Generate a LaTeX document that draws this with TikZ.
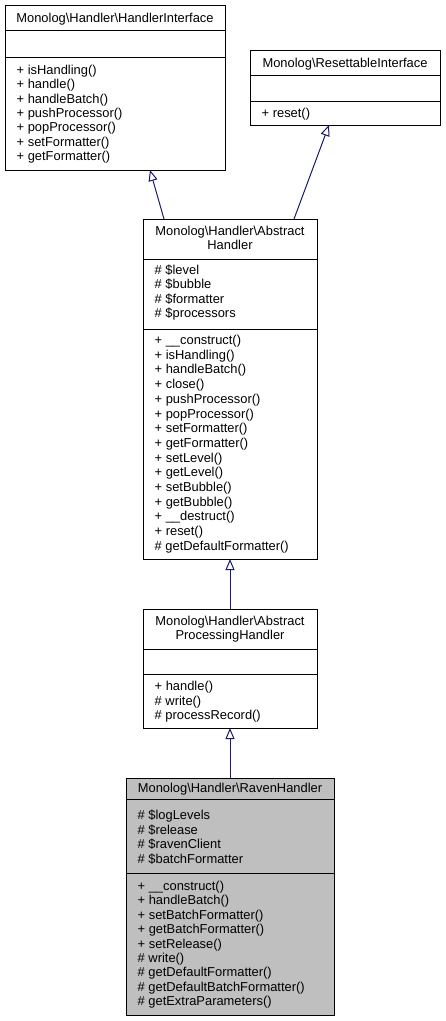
\documentclass[tikz,border=0pt]{standalone}
\usepackage{fontspec}
\setmainfont{Liberation Sans}
\usetikzlibrary{arrows.meta}
\definecolor{edgeblue}{HTML}{191970}
\definecolor{hlgray}{HTML}{BFBFBF}
\newcommand\umllines[5]{%
  \foreach \t [count=\i from 0] in {#5}
    \node[txt, name=#1-\i] at (#2, {#3+\i*#4}) {\t};}
\begin{document}
\begin{tikzpicture}[x=1pt,y=-1pt,
  box/.style={draw=black, line width=1pt, inner sep=0pt, outer sep=0pt, anchor=north west, fill=white},
  txt/.style={anchor=base west, inner sep=0pt, font=\fontsize{12.9}{14.4}\selectfont},
  ttl/.style={anchor=base, inner sep=0pt, font=\fontsize{12.9}{14.4}\selectfont},
  sep/.style={draw=black, line width=1pt},
  inh/.style={draw=edgeblue, line width=1pt, -{Triangle[open, length=11pt, width=9pt, fill=white]}}
]
\useasboundingbox (0,0) rectangle (445,1021);

% Box 1: HandlerInterface
\node[box, minimum width=220pt, minimum height=165pt] (b1) at (5,5) {};
\draw[sep] (5,30) -- (225,30);
\draw[sep] (5,57) -- (225,57);
\node[ttl] (b1t) at (115,22) {Monolog\textbackslash Handler\textbackslash HandlerInterface};
\umllines{b1m}{16.5}{74.5}{14.33}{+ isHandling(),+ handle(),+ handleBatch(),+ pushProcessor(),+ popProcessor(),+ setFormatter(),+ getFormatter()}

% Box 2: ResettableInterface
\node[box, minimum width=190pt, minimum height=75pt] (b2) at (250,50) {};
\draw[sep] (250,75) -- (440,75);
\draw[sep] (250,101) -- (440,101);
\node[ttl] (b2t) at (345,67) {Monolog\textbackslash ResettableInterface};
\umllines{b2m}{261.5}{117.5}{14.4}{+ reset()}

% Box 3: AbstractHandler
\node[box, minimum width=174pt, minimum height=340pt] (b3) at (143,219) {};
\draw[sep] (143,259) -- (317,259);
\draw[sep] (143,329) -- (317,329);
\node[ttl] (b3t1) at (230,235.5) {Monolog\textbackslash Handler\textbackslash Abstract};
\node[ttl] (b3t2) at (230,249.5) {Handler};
\umllines{b3a}{154.5}{274.5}{14.33}{\#\ \$level,\#\ \$bubble,\#\ \$formatter,\#\ \$processors}
\umllines{b3m}{154.5}{344.5}{14.7}{+ \_\_construct(),+ isHandling(),+ handleBatch(),+ close(),+ pushProcessor(),+ popProcessor(),+ setFormatter(),+ getFormatter(),+ setLevel(),+ getLevel(),+ setBubble(),+ getBubble(),+ \_\_destruct(),+ reset(),\#\ getDefaultFormatter()}

% Box 4: AbstractProcessingHandler
\node[box, minimum width=174pt, minimum height=119pt] (b4) at (143,609) {};
\draw[sep] (143,649) -- (317,649);
\draw[sep] (143,674) -- (317,674);
\node[ttl] (b4t1) at (230,625.5) {Monolog\textbackslash Handler\textbackslash Abstract};
\node[ttl] (b4t2) at (230,639.5) {ProcessingHandler};
\umllines{b4m}{154.5}{690.5}{14.5}{+ handle(),\#\ write(),\#\ processRecord()}

% Box 5: RavenHandler
\node[box, fill=hlgray, minimum width=208pt, minimum height=237pt] (b5) at (126,778) {};
\draw[sep] (126,799) -- (334,799);
\draw[sep] (126,873) -- (334,873);
\node[ttl] (b5t) at (230,792.5) {Monolog\textbackslash Handler\textbackslash RavenHandler};
\umllines{b5a}{137.5}{819.5}{14.67}{\#\ \$logLevels,\#\ \$release,\#\ \$ravenClient,\#\ \$batchFormatter}
\umllines{b5m}{137.5}{890.5}{14.4}{+ \_\_construct(),+ handleBatch(),+ setBatchFormatter(),+ getBatchFormatter(),+ setRelease(),\#\ write(),\#\ getDefaultFormatter(),\#\ getDefaultBatchFormatter(),\#\ getExtraParameters()}

% Inheritance connectors
\draw[inh] ([xshift=21pt]b3.north west) -- ([xshift=145pt]b1.south west);
\draw[inh] ([xshift=151pt]b3.north west) -- ([xshift=79pt]b2.south west);
\draw[inh] (b4.north) -- (b3.south);
\draw[inh] (b5.north) -- (b4.south);
\end{tikzpicture}
\end{document}
